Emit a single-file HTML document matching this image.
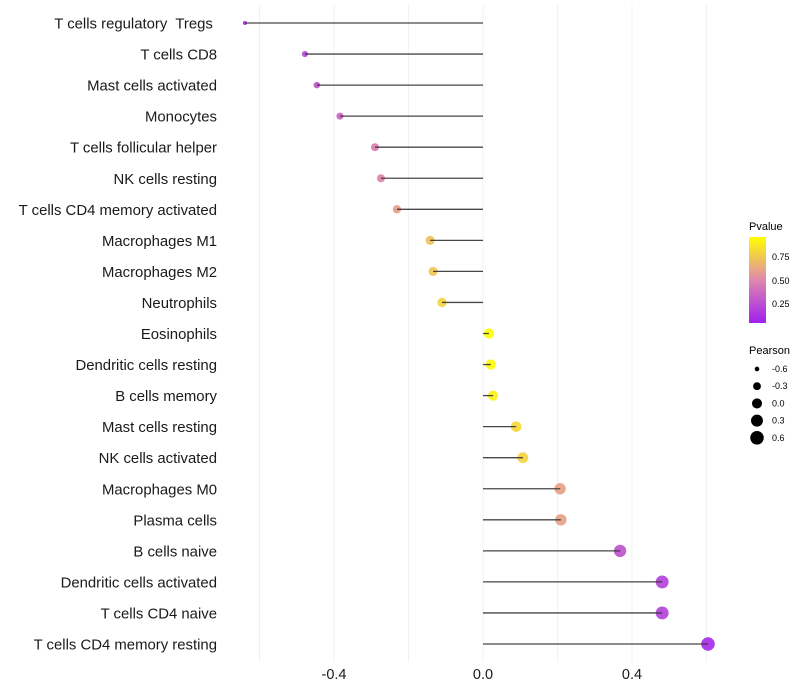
<!DOCTYPE html>
<html><head><meta charset="utf-8"><style>
body{margin:0;background:#fff}
svg{display:block;font-family:"Liberation Sans",sans-serif}
text{white-space:pre}
</style></head><body>
<svg id="chart" width="800" height="700">
<defs><linearGradient id="pg" x1="0" y1="1" x2="0" y2="0">
<stop offset="0" stop-color="#a020f0"/><stop offset="0.5" stop-color="#df88ae"/><stop offset="1" stop-color="#ffff00"/>
</linearGradient></defs>
<g id="grid"></g><g id="marks"></g><g id="labels"></g><g id="xticks"></g>
<g>
<text x="749" y="230" font-size="11">Pvalue</text>
<rect x="749" y="237" width="17" height="86" fill="url(#pg)"/>
<text x="772" y="260" font-size="9">0.75</text>
<text x="772" y="284" font-size="9">0.50</text>
<text x="772" y="307" font-size="9">0.25</text>
</g>
<g id="sizeLegend">
<text x="749" y="354" font-size="11">Pearson</text>
</g>
</svg>
<script>
const categories=["T cells regulatory  Tregs ","T cells CD8","Mast cells activated","Monocytes","T cells follicular helper","NK cells resting","T cells CD4 memory activated","Macrophages M1","Macrophages M2","Neutrophils","Eosinophils","Dendritic cells resting","B cells memory","Mast cells resting","NK cells activated","Macrophages M0","Plasma cells","B cells naive","Dendritic cells activated","T cells CD4 naive","T cells CD4 memory resting"];
const pearson=[-0.639,-0.478,-0.446,-0.384,-0.29,-0.274,-0.231,-0.142,-0.134,-0.110,0.016,0.021,0.027,0.089,0.107,0.207,0.209,0.368,0.481,0.481,0.604];
const pvalue=[0.08,0.2,0.25,0.32,0.42,0.46,0.56,0.7,0.72,0.78,0.95,0.93,0.9,0.8,0.78,0.58,0.58,0.25,0.18,0.18,0.08];
const xTicks=[-0.4,0,0.4];
const xTickLabels=["-0.4","0.0","0.4"];
const xMinor=[-0.6,-0.2,0.2,0.6];
const sizeLegendVals=[-0.6,-0.3,0.0,0.3,0.6];
const sizeLegendLabels=["-0.6","-0.3","0.0","0.3","0.6"];
const NS="http://www.w3.org/2000/svg";
const x=v=>483+v*372.5;
const y=i=>23+i*31.05;
const r=v=>Math.sqrt(2+ (v+0.7)/1.4*47);
function lerp(a,b,t){return a.map((c,k)=>Math.round(c+(b[k]-c)*t));}
function col(p){const t=Math.max(0,Math.min(1,(p-0.05)/0.9));const A=[160,32,240],M=[226,140,160],B=[255,255,0];
const c=t<0.5?lerp(A,M,t*2):lerp(M,B,(t-0.5)*2);return `rgb(${c})`;}
function mk(tag,attrs,parent){const e=document.createElementNS(NS,tag);for(const k in attrs)e.setAttribute(k,attrs[k]);parent.appendChild(e);return e;}
const grid=document.getElementById('grid');
xTicks.concat(xMinor).forEach(v=>{const l=mk('line',{x1:x(v),x2:x(v),y1:5,y2:662,stroke:'#f1f1f1','stroke-width':1},grid);

});
const marks=document.getElementById('marks'),labels=document.getElementById('labels');
categories.forEach((c,i)=>{
const d=mk('circle',{cx:x(pearson[i]),cy:y(i),r:r(pearson[i]),fill:col(pvalue[i]),'fill-opacity':0.9},marks);


const s=mk('line',{x1:x(0),x2:x(pearson[i]),y1:y(i),y2:y(i),stroke:'#333','stroke-width':1.3,'stroke-opacity':0.9},marks);


const t=mk('text',{x:217,y:y(i)+5.5,'text-anchor':'end','font-size':14.9,fill:'#1a1a1a'},labels);t.textContent=c;


});
const xt=document.getElementById('xticks');
xTicks.forEach((v,i)=>{const t=mk('text',{x:x(v),y:679,'text-anchor':'middle','font-size':14.5,fill:'#1a1a1a'},xt);t.textContent=xTickLabels[i];

});
const sl=document.getElementById('sizeLegend');
sizeLegendVals.forEach((v,i)=>{const cy=369+i*17.2;
const c=mk('circle',{cx:757,cy:cy,r:r(v),fill:'#000'},sl);


const t=mk('text',{x:772,y:cy+3,'font-size':9},sl);t.textContent=sizeLegendLabels[i];

});
</script>
</body></html>
